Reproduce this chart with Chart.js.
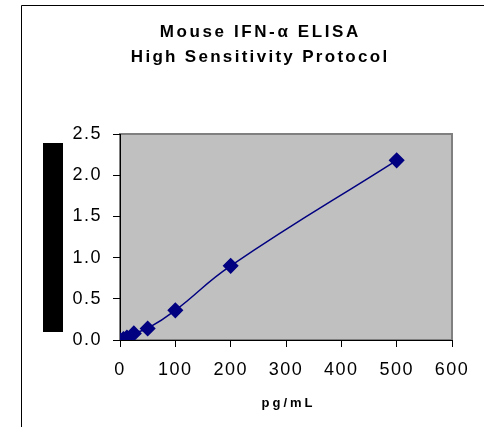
<html>
<head>
<script src="https://cdn.jsdelivr.net/npm/chart.js@4/dist/chart.umd.min.js"></script>
<style>
  body { margin: 0; background: #fff; }
  canvas { display: block; }
</style>
</head>
<body>
<canvas id="myChart" width="484" height="427"></canvas>
<script>
// standard curve
const concentrations = [0, 6.25, 12.5, 25, 50, 100, 200, 500];
const absorbance = [0.0, 0.01, 0.03, 0.08, 0.14, 0.36, 0.90, 2.18];
const titleLines = ["Mouse IFN-\u03b1 ELISA", "High Sensitivity Protocol"];
const xTitle = "pg/mL";
const xMax = 600, xStep = 100;
const yMax = 2.5, yStep = 0.5;

const points = concentrations.map((c, i) => ({ x: c, y: absorbance[i] }));

function spacedText(ctx, text, x, y, spacing) {
    ctx.letterSpacing = spacing + 'px';
    ctx.fillText(text, x + spacing / 2, y);
}

// frame, gray plot area, black box over the y title, titles
const decor = {
    id: 'decor',
    beforeUpdate(chart) {
        chart.ctx.letterSpacing = '1.5px';
    },
    beforeDraw(chart) {
        const ctx = chart.ctx, a = chart.chartArea;
        ctx.save();
        ctx.strokeStyle = '#000';
        ctx.lineWidth = 1;
        ctx.beginPath();
        ctx.moveTo(21.5, 440);
        ctx.lineTo(21.5, 5.5);
        ctx.lineTo(490, 5.5);
        ctx.stroke();
        ctx.fillStyle = '#c0c0c0';
        ctx.fillRect(a.left, a.top, a.right - a.left, a.bottom - a.top);
        ctx.strokeStyle = '#808080';
        ctx.lineWidth = 2;
        ctx.strokeRect(a.left, a.top, a.right - a.left, a.bottom - a.top);
        ctx.fillStyle = '#000';
        ctx.fillRect(43, a.top + 9, 20, a.bottom - a.top - 17);
        ctx.restore();
        ctx.letterSpacing = '1.5px';
    },
    afterDraw(chart) {
        const ctx = chart.ctx, a = chart.chartArea;
        ctx.save();
        ctx.fillStyle = '#000';
        ctx.textAlign = 'center';
        ctx.textBaseline = 'alphabetic';
        ctx.font = 'bold 17px "Liberation Sans", Arial';
        spacedText(ctx, titleLines[0], 259, 37, 2.6);
        spacedText(ctx, titleLines[1], 259, 62, 2.3);
        ctx.font = 'bold 13px "Liberation Sans", Arial';
        spacedText(ctx, xTitle, (a.left + a.right) / 2 + 1, 407, 3);
        ctx.restore();
    }
};

new Chart(document.getElementById('myChart'), {
    type: 'scatter',
    data: {
        datasets: [{
            data: points,
            showLine: true,
            tension: 0.45,
            borderColor: '#000080',
            borderWidth: 1.5,
            backgroundColor: '#000080',
            pointStyle: 'rectRot',
            pointRadius: 7,
            pointHoverRadius: 7
        }]
    },
    options: {
        responsive: false,
        animation: false,
        layout: { padding: { left: 0, right: 32, top: 134, bottom: 0 } },
        plugins: {
            legend: { display: false },
            tooltip: { enabled: false },
            title: { display: false }
        },
        scales: {
            x: {
                type: 'linear',
                min: 0, max: xMax,
                afterFit(s) { s.height = 87; },
                ticks: { stepSize: xStep, color: '#000', padding: 12,
                         font: { family: 'Liberation Sans, Arial', size: 18 } },
                grid: { display: true, drawOnChartArea: false, drawTicks: true, tickLength: 7, color: '#000' },
                border: { display: true, color: '#000', width: 1 }
            },
            y: {
                min: 0, max: yMax,
                afterFit(s) { s.width = 120; },
                ticks: { stepSize: yStep, color: '#000', padding: 11,
                         callback: v => v.toFixed(1),
                         font: { family: 'Liberation Sans, Arial', size: 18 } },
                grid: { display: true, drawOnChartArea: false, drawTicks: true, tickLength: 7, color: '#000' },
                border: { display: true, color: '#000', width: 1 }
            }
        }
    },
    plugins: [decor]
});
</script>
</body>
</html>
